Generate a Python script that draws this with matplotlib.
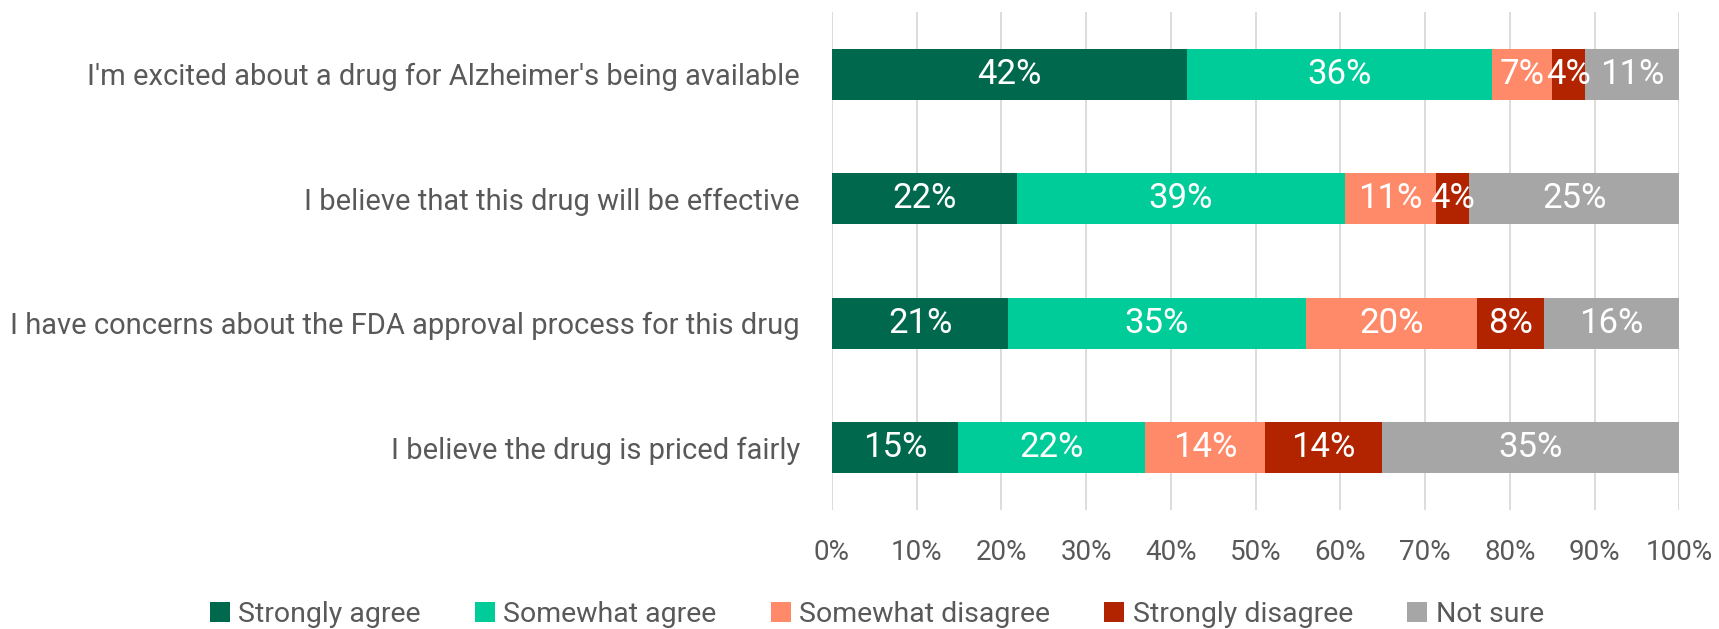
import matplotlib
matplotlib.use("Agg")
import matplotlib.pyplot as plt
import numpy as np

plt.rcParams["font.family"] = ["Roboto", "DejaVu Sans"]

questions = [
    "I'm excited about a drug for Alzheimer's being available",
    "I believe that this drug will be effective",
    "I have concerns about the FDA approval process for this drug",
    "I believe the drug is priced fairly",
]
series = ["Strongly agree", "Somewhat agree", "Somewhat disagree", "Strongly disagree", "Not sure"]
strongly_agree = [41.9, 21.8, 20.8, 14.9]
somewhat_agree = [36.0, 38.7, 35.1, 22.0]
somewhat_disagree = [7.1, 10.8, 20.2, 14.2]
strongly_disagree = [3.9, 3.9, 7.9, 13.8]
not_sure = [11.1, 24.8, 16.0, 35.1]
colors = ["#00694D", "#00CC99", "#FF8A6A", "#B22300", "#A6A6A6"]

values = [strongly_agree, somewhat_agree, somewhat_disagree, strongly_disagree, not_sure]

fig = plt.figure(figsize=(17.19, 6.29), dpi=100)
ax = fig.add_axes([0.484, 0.189, 0.493, 0.792])

y = np.arange(len(questions))
left = np.zeros(len(questions))
for name, vals, c in zip(series, values, colors):
    vals = np.array(vals)
    bars = ax.barh(y, vals, left=left, height=0.41, color=c, label=name, zorder=3)
    for b, v in zip(bars, vals):
        ax.text(b.get_x() + b.get_width() / 2, b.get_y() + b.get_height() / 2,
                f"{round(v):.0f}%", ha="center", va="center", color="white",
                fontsize=25, zorder=4)
    left += vals

ax.set_xlim(0, 100)
ax.set_ylim(len(questions) - 0.5, -0.5)
ax.set_xticks(np.arange(0, 101, 10))
ax.set_xticklabels([f"{t}%" for t in range(0, 101, 10)])
ax.set_yticks(y)
ax.set_yticklabels(questions)
ax.tick_params(axis="both", length=0, labelsize=20, labelcolor="#595959")
ax.tick_params(axis="y", labelsize=21, pad=23)
ax.tick_params(axis="x", pad=21)
ax.grid(axis="x", color="#D9D9D9", linewidth=1.3, zorder=0)
for s in ax.spines.values():
    s.set_visible(False)

fig.legend(loc="center", bbox_to_anchor=(0.51, 0.023), ncol=5, frameon=False,
           fontsize=20.5, labelcolor="#595959", handlelength=0.7, handleheight=0.7,
           handletextpad=0.3, columnspacing=1.9)

fig.savefig("out.png", dpi=100)
